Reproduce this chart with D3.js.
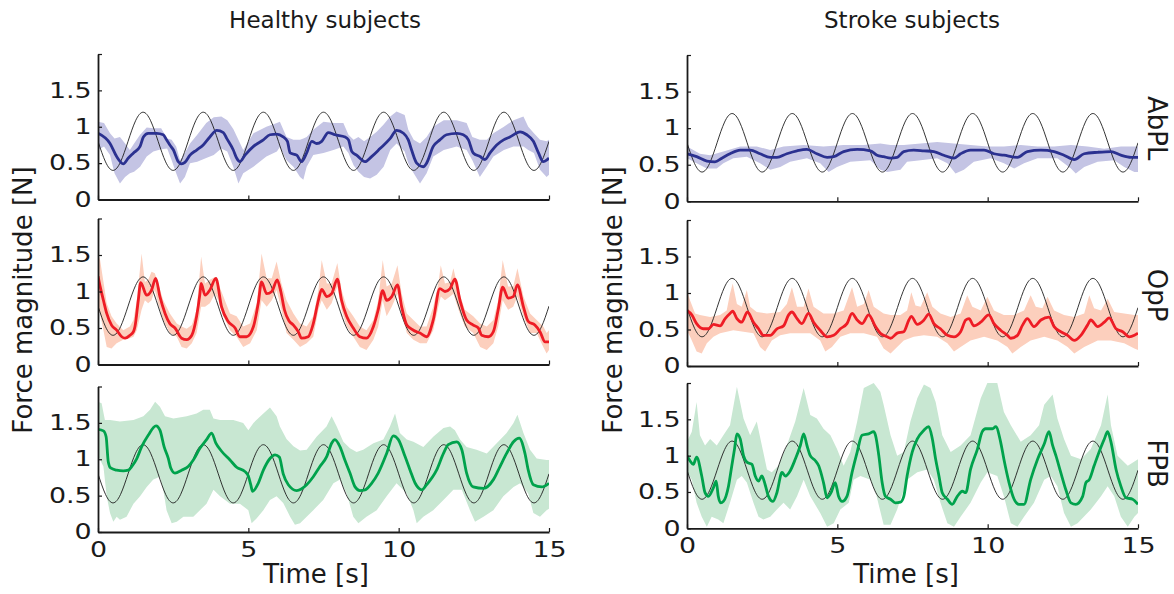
<!DOCTYPE html>
<html><head><meta charset="utf-8">
<script src="https://cdn.jsdelivr.net/npm/d3@7"></script>
<style>
body{margin:0;background:#fff}
svg{display:block}
text{font-family:"DejaVu Sans",Verdana,sans-serif;fill:#1a1a1a}
</style></head><body>
<svg id="fig" width="1174" height="594"></svg>
<script>
// ---- Target force profile (sampled every 0.25 s) ----
const targetStep = 0.25;
const targetLevels = [
  0.80,0.517,0.40,0.517,0.80,1.083,1.20,1.083,
  0.80,0.517,0.40,0.517,0.80,1.083,1.20,1.083,
  0.80,0.517,0.40,0.517,0.80,1.083,1.20,1.083,
  0.80,0.517,0.40,0.517,0.80,1.083,1.20,1.083,
  0.80,0.517,0.40,0.517,0.80,1.083,1.20,1.083,
  0.80,0.517,0.40,0.517,0.80,1.083,1.20,1.083,
  0.80,0.517,0.40,0.517,0.80,1.083,1.20,1.083,
  0.80,0.517,0.40,0.517,0.80
];

// ---- Healthy subjects: [time s, force N] ----
const healthyAbplMean = [[0,0.91],[0.4,0.77],[0.62,0.59],[0.84,0.49],[1.01,0.57],[1.18,0.64],[1.4,0.73],[1.51,0.86],[1.67,0.91],[1.95,0.91],[2.17,0.89],[2.28,0.82],[2.39,0.75],[2.51,0.68],[2.67,0.52],[2.78,0.49],[2.89,0.51],[3.06,0.61],[3.28,0.68],[3.5,0.75],[3.72,0.86],[3.95,0.95],[4.17,0.92],[4.28,0.84],[4.5,0.68],[4.61,0.57],[4.72,0.52],[4.89,0.61],[5.17,0.73],[5.5,0.82],[5.72,0.89],[5.94,0.9],[6.16,0.86],[6.3,0.8],[6.39,0.64],[6.61,0.61],[6.77,0.52],[6.94,0.64],[7.11,0.8],[7.27,0.77],[7.44,0.8],[7.66,0.92],[7.88,0.89],[8.22,0.86],[8.33,0.82],[8.44,0.66],[8.6,0.61],[8.88,0.52],[9.1,0.59],[9.38,0.7],[9.72,0.84],[9.93,0.95],[10.16,0.91],[10.32,0.82],[10.43,0.68],[10.6,0.5],[10.82,0.45],[10.93,0.5],[11.15,0.73],[11.37,0.82],[11.59,0.89],[11.93,0.91],[12.15,0.89],[12.32,0.82],[12.48,0.64],[12.71,0.59],[12.87,0.55],[13.04,0.64],[13.26,0.75],[13.49,0.82],[13.7,0.86],[14.04,0.93],[14.26,0.89],[14.48,0.8],[14.65,0.64],[14.81,0.52],[14.92,0.54],[15,0.57]];
// [time, lower, upper]
const healthyAbplBand = [[0,0.68,1.07],[0.2,0.73,1.05],[0.4,0.61,0.91],[0.55,0.36,0.84],[0.73,0.22,0.86],[0.9,0.31,0.77],[1.06,0.36,0.68],[1.2,0.38,0.77],[1.4,0.45,0.89],[1.62,0.59,0.99],[1.84,0.66,0.98],[2.1,0.69,0.98],[2.3,0.7,0.84],[2.45,0.54,0.82],[2.6,0.36,0.73],[2.73,0.22,0.54],[2.89,0.31,0.64],[3.06,0.5,0.77],[3.3,0.52,0.89],[3.6,0.57,1.05],[3.85,0.61,1.13],[4.1,0.7,1.14],[4.3,0.66,1.09],[4.5,0.45,0.97],[4.67,0.22,0.82],[4.83,0.36,0.68],[5.17,0.45,0.91],[5.6,0.59,1.0],[5.95,0.66,1.05],[6.05,0.72,1.07],[6.27,0.54,0.86],[6.5,0.45,0.82],[6.72,0.31,0.82],[6.83,0.27,0.84],[6.94,0.45,0.86],[7.16,0.61,0.96],[7.5,0.64,1.07],[7.83,0.68,1.05],[8.16,0.73,1.05],[8.33,0.64,0.89],[8.5,0.47,0.82],[8.66,0.38,0.86],[8.85,0.31,0.8],[9.05,0.29,0.86],[9.27,0.34,0.93],[9.5,0.45,1.03],[9.72,0.68,1.14],[9.93,0.77,1.21],[10.2,0.66,1.16],[10.32,0.5,0.96],[10.5,0.36,0.82],[10.71,0.22,0.77],[10.93,0.36,0.86],[11.15,0.59,1.0],[11.5,0.68,1.09],[11.93,0.73,1.09],[12.26,0.68,1.05],[12.45,0.54,0.86],[12.7,0.31,0.82],[12.93,0.45,0.82],[13.15,0.59,0.91],[13.5,0.68,1.0],[13.82,0.73,1.09],[14.15,0.73,1.14],[14.31,0.68,1.0],[14.5,0.64,0.91],[14.7,0.41,0.82],[14.92,0.31,0.8],[15,0.34,0.82]];

const healthyOppMean = [[0,1.21],[0.07,1.07],[0.18,0.88],[0.29,0.7],[0.45,0.54],[0.62,0.47],[0.79,0.38],[0.9,0.36],[1.06,0.4],[1.18,0.45],[1.23,0.52],[1.34,0.88],[1.42,1.12],[1.62,0.95],[1.78,1.02],[1.92,1.18],[2.06,0.93],[2.23,0.7],[2.39,0.56],[2.56,0.5],[2.78,0.36],[2.95,0.34],[3.12,0.4],[3.28,0.66],[3.39,0.97],[3.43,1.11],[3.56,0.95],[3.72,1.02],[3.92,1.18],[4.11,0.79],[4.33,0.59],[4.56,0.5],[4.72,0.38],[4.94,0.38],[5.17,0.52],[5.33,0.84],[5.44,1.13],[5.61,0.97],[5.78,1.0],[5.96,1.16],[6.08,1.0],[6.2,0.75],[6.35,0.6],[6.5,0.54],[6.66,0.45],[6.77,0.36],[6.99,0.38],[7.16,0.56],[7.33,0.88],[7.44,1.03],[7.61,0.93],[7.77,0.97],[7.96,1.17],[8.1,0.88],[8.27,0.66],[8.49,0.5],[8.71,0.38],[8.93,0.36],[9.16,0.52],[9.32,0.75],[9.47,1.01],[9.6,0.88],[9.77,0.93],[9.96,1.09],[10.1,0.79],[10.27,0.54],[10.49,0.47],[10.71,0.43],[10.93,0.38],[11.15,0.61],[11.37,1.04],[11.54,1.0],[11.71,1.04],[11.87,1.17],[12.04,0.88],[12.26,0.61],[12.48,0.54],[12.65,0.5],[12.76,0.4],[12.98,0.38],[13.15,0.45],[13.31,0.75],[13.46,1.06],[13.64,0.91],[13.81,0.93],[13.95,1.09],[14.15,0.79],[14.31,0.59],[14.53,0.54],[14.7,0.45],[14.87,0.31],[15,0.31]];
const healthyOppBand = [[0,0.75,1.52],[0.07,0.7,1.43],[0.29,0.24,0.84],[0.45,0.22,0.66],[0.62,0.29,0.56],[0.84,0.34,0.47],[1.06,0.36,0.52],[1.18,0.38,0.61],[1.29,0.47,0.88],[1.45,0.75,1.52],[1.56,0.88,1.13],[1.67,0.84,1.16],[1.78,0.88,1.27],[1.89,1.02,1.25],[2.0,0.84,1.11],[2.17,0.61,0.88],[2.39,0.43,0.7],[2.62,0.38,0.56],[2.78,0.24,0.52],[2.95,0.22,0.49],[3.12,0.29,0.54],[3.28,0.43,0.75],[3.43,0.79,1.48],[3.56,0.79,1.11],[3.72,0.84,1.16],[3.89,0.97,1.2],[4.0,0.88,1.11],[4.17,0.66,0.93],[4.39,0.47,0.7],[4.61,0.38,0.66],[4.83,0.24,0.52],[5.06,0.29,0.56],[5.28,0.47,0.84],[5.44,0.88,1.52],[5.61,0.79,1.18],[5.78,0.88,1.18],[5.94,1.02,1.41],[6.1,0.75,1.11],[6.27,0.43,0.88],[6.5,0.34,0.7],[6.72,0.24,0.56],[6.94,0.29,0.52],[7.16,0.38,0.66],[7.33,0.75,1.02],[7.44,0.88,1.43],[7.61,0.75,1.11],[7.77,0.84,1.11],[7.96,1.07,1.39],[8.1,0.75,1.02],[8.27,0.52,0.79],[8.49,0.38,0.66],[8.71,0.24,0.52],[8.93,0.2,0.47],[9.16,0.34,0.61],[9.32,0.52,0.88],[9.47,0.88,1.43],[9.6,0.66,1.07],[9.77,0.79,1.11],[9.96,0.97,1.36],[10.1,0.7,0.97],[10.27,0.43,0.7],[10.49,0.34,0.61],[10.71,0.29,0.52],[10.93,0.29,0.52],[11.15,0.47,0.79],[11.32,0.79,1.11],[11.4,0.93,1.36],[11.54,0.88,1.11],[11.71,0.93,1.13],[11.82,0.97,1.32],[11.99,0.75,1.02],[12.2,0.52,0.75],[12.48,0.43,0.66],[12.71,0.24,0.56],[12.93,0.2,0.52],[13.15,0.29,0.61],[13.31,0.52,0.88],[13.46,0.88,1.43],[13.64,0.75,1.07],[13.81,0.79,1.07],[13.95,0.93,1.32],[14.15,0.66,0.93],[14.37,0.43,0.7],[14.59,0.43,0.61],[14.81,0.24,0.52],[14.92,0.15,0.43],[15,0.2,0.47]];

const healthyFpbMean = [[0,1.41],[0.18,1.39],[0.27,1.31],[0.34,0.97],[0.42,0.88],[0.62,0.85],[0.84,0.84],[1.01,0.85],[1.12,0.9],[1.29,1.01],[1.45,1.17],[1.67,1.33],[1.93,1.46],[2.06,1.4],[2.2,1.17],[2.34,1.01],[2.42,0.88],[2.56,0.81],[2.78,0.85],[3.0,0.9],[3.17,0.99],[3.39,1.15],[3.61,1.27],[3.78,1.36],[3.92,1.22],[4.11,1.11],[4.39,0.99],[4.61,0.89],[4.89,0.83],[5.0,0.77],[5.08,0.65],[5.14,0.56],[5.33,0.67],[5.5,0.85],[5.72,1.01],[5.89,1.06],[6.03,1.03],[6.16,0.8],[6.33,0.65],[6.61,0.57],[6.94,0.65],[7.16,0.76],[7.38,0.9],[7.61,1.04],[7.77,1.22],[7.88,1.27],[8.05,1.17],[8.21,0.99],[8.38,0.81],[8.55,0.62],[8.71,0.57],[8.88,0.58],[9.1,0.67],[9.32,0.81],[9.6,1.08],[9.82,1.32],[9.99,1.27],[10.21,1.04],[10.38,0.85],[10.55,0.67],[10.77,0.58],[10.93,0.65],[11.26,0.85],[11.49,1.08],[11.65,1.2],[11.93,1.24],[12.1,1.13],[12.26,0.81],[12.48,0.62],[12.82,0.6],[13.15,0.72],[13.37,0.9],[13.59,1.08],[13.82,1.24],[14.01,1.29],[14.2,1.08],[14.31,0.85],[14.48,0.65],[14.76,0.62],[15,0.67]];
const healthyFpbUpper = [[0,1.79],[0.12,1.77],[0.23,1.54],[0.4,1.54],[0.73,1.52],[1.18,1.54],[1.51,1.59],[1.73,1.68],[1.9,1.79],[2.06,1.72],[2.23,1.59],[2.51,1.56],[2.95,1.59],[3.28,1.63],[3.5,1.68],[3.72,1.68],[3.84,1.56],[4.06,1.54],[4.5,1.54],[4.83,1.5],[5.0,1.4],[5.17,1.5],[5.5,1.63],[5.72,1.71],[5.94,1.59],[6.05,1.45],[6.27,1.28],[6.5,1.18],[6.72,1.12],[6.94,1.13],[7.27,1.31],[7.6,1.45],[7.77,1.59],[7.94,1.45],[8.16,1.24],[8.38,1.15],[8.6,1.1],[8.82,1.13],[9.16,1.22],[9.49,1.27],[9.71,1.45],[9.88,1.63],[10.04,1.36],[10.27,1.27],[10.49,1.24],[10.82,1.17],[11.15,1.31],[11.49,1.43],[11.71,1.45],[11.87,1.4],[12.04,1.27],[12.26,1.17],[12.59,1.13],[12.93,1.08],[13.26,1.22],[13.59,1.36],[13.82,1.5],[13.95,1.61],[14.15,1.36],[14.37,1.13],[14.59,1.01],[14.92,0.99],[15,0.99]];
const healthyFpbLower = [[0,1.05],[0.18,0.9],[0.29,0.49],[0.4,0.26],[0.51,0.14],[0.62,0.21],[0.73,0.17],[0.95,0.21],[1.18,0.39],[1.4,0.49],[1.62,0.62],[1.84,0.72],[2.06,0.76],[2.17,0.58],[2.28,0.3],[2.45,0.12],[2.62,0.14],[2.84,0.21],[3.17,0.21],[3.39,0.3],[3.61,0.39],[3.84,0.58],[4.06,0.49],[4.39,0.39],[4.72,0.39],[5.0,0.3],[5.11,0.12],[5.28,0.19],[5.5,0.3],[5.72,0.44],[5.94,0.49],[6.16,0.4],[6.39,0.21],[6.55,0.1],[6.72,0.12],[6.94,0.21],[7.16,0.3],[7.49,0.44],[7.83,0.67],[8.05,0.72],[8.27,0.53],[8.49,0.21],[8.66,0.12],[8.93,0.21],[9.27,0.3],[9.6,0.49],[9.93,0.67],[10.27,0.53],[10.49,0.3],[10.6,0.12],[10.82,0.21],[11.15,0.3],[11.49,0.44],[11.82,0.58],[12.1,0.58],[12.37,0.3],[12.54,0.14],[12.82,0.21],[13.15,0.3],[13.48,0.49],[13.82,0.62],[14.04,0.67],[14.31,0.53],[14.48,0.26],[14.7,0.21],[14.92,0.3],[15,0.32]];

// ---- Stroke subjects ----
const strokeAbplMean = [[0,0.65],[0.32,0.61],[0.66,0.55],[0.93,0.54],[1.16,0.59],[1.43,0.65],[1.77,0.7],[2.1,0.7],[2.43,0.65],[2.77,0.6],[2.99,0.6],[3.32,0.65],[3.66,0.69],[3.99,0.71],[4.32,0.65],[4.66,0.6],[4.88,0.61],[5.21,0.68],[5.66,0.71],[6.1,0.69],[6.32,0.63],[6.54,0.61],[6.77,0.59],[6.99,0.6],[7.21,0.68],[7.54,0.7],[7.88,0.69],[8.21,0.68],[8.54,0.63],[8.88,0.59],[9.1,0.65],[9.43,0.7],[9.88,0.7],[10.21,0.65],[10.54,0.63],[10.99,0.6],[11.32,0.68],[11.77,0.7],[12.21,0.68],[12.54,0.63],[12.88,0.57],[13.21,0.65],[13.66,0.67],[14.1,0.68],[14.43,0.63],[14.77,0.6],[15,0.6]];
const strokeAbplUpper = [[0,0.75],[0.43,0.65],[0.77,0.63],[1.21,0.68],[1.77,0.75],[2.32,0.75],[2.77,0.7],[3.21,0.75],[3.88,0.77],[4.54,0.75],[5.21,0.77],[5.88,0.77],[6.43,0.79],[6.77,0.77],[7.21,0.77],[7.77,0.79],[8.32,0.81],[8.88,0.79],[9.43,0.77],[9.99,0.75],[10.54,0.75],[11.1,0.77],[11.66,0.75],[12.21,0.75],[12.77,0.77],[13.32,0.75],[13.88,0.72],[14.43,0.75],[15,0.75]];
const strokeAbplLower = [[0,0.59],[0.32,0.52],[0.66,0.45],[0.99,0.45],[1.21,0.52],[1.54,0.59],[1.99,0.61],[2.43,0.52],[2.77,0.43],[3.1,0.47],[3.43,0.54],[3.99,0.59],[4.43,0.52],[4.71,0.4],[4.99,0.47],[5.43,0.54],[6.1,0.56],[6.43,0.43],[6.66,0.4],[7.1,0.43],[7.32,0.54],[7.77,0.56],[8.32,0.59],[8.66,0.52],[8.93,0.38],[9.21,0.43],[9.54,0.54],[10.1,0.59],[10.54,0.52],[10.88,0.45],[11.21,0.52],[11.66,0.59],[12.32,0.59],[12.77,0.45],[12.93,0.38],[13.21,0.47],[13.66,0.54],[14.21,0.56],[14.54,0.47],[14.88,0.4],[15,0.4]];

const strokeOppMean = [[0,0.76],[0.16,0.7],[0.32,0.58],[0.54,0.51],[0.71,0.51],[0.88,0.57],[1.1,0.55],[1.27,0.65],[1.43,0.72],[1.52,0.75],[1.66,0.65],[1.82,0.6],[2.01,0.74],[2.21,0.6],[2.38,0.51],[2.54,0.42],[2.77,0.42],[2.99,0.51],[3.21,0.55],[3.38,0.7],[3.49,0.74],[3.66,0.65],[3.82,0.58],[4.04,0.72],[4.21,0.6],[4.43,0.49],[4.66,0.4],[4.88,0.42],[5.1,0.51],[5.32,0.58],[5.49,0.72],[5.66,0.63],[5.82,0.58],[6.04,0.7],[6.27,0.54],[6.43,0.45],[6.66,0.4],[6.77,0.38],[6.99,0.45],[7.21,0.47],[7.38,0.63],[7.46,0.68],[7.66,0.57],[7.88,0.63],[8.04,0.71],[8.21,0.58],[8.43,0.51],[8.66,0.42],[8.88,0.4],[9.1,0.47],[9.27,0.63],[9.38,0.65],[9.54,0.55],[9.77,0.6],[10.04,0.7],[10.21,0.58],[10.43,0.49],[10.66,0.42],[10.77,0.38],[10.99,0.42],[11.16,0.56],[11.32,0.65],[11.54,0.54],[11.77,0.63],[12.04,0.67],[12.21,0.54],[12.43,0.47],[12.66,0.42],[12.88,0.35],[13.1,0.42],[13.32,0.56],[13.43,0.63],[13.66,0.54],[13.88,0.6],[14.04,0.66],[14.27,0.51],[14.49,0.47],[14.71,0.4],[14.88,0.42],[15,0.45]];
const strokeOppUpper = [[0,1.04],[0.1,0.9],[0.27,0.72],[0.43,0.7],[0.77,0.67],[1.1,0.7],[1.32,0.76],[1.43,0.99],[1.52,1.13],[1.66,0.85],[1.82,0.81],[1.99,1.04],[2.1,0.81],[2.32,0.74],[2.66,0.72],[3.1,0.74],[3.32,0.85],[3.49,1.08],[3.66,0.81],[3.88,0.81],[4.04,1.06],[4.21,0.81],[4.54,0.72],[4.88,0.72],[5.21,0.76],[5.49,1.08],[5.66,0.81],[5.88,0.85],[6.04,1.04],[6.21,0.81],[6.54,0.72],[6.77,0.7],[7.1,0.7],[7.32,0.76],[7.46,1.01],[7.6,0.83],[7.77,0.81],[7.99,1.01],[8.16,0.81],[8.43,0.72],[8.77,0.67],[9.1,0.72],[9.32,0.97],[9.49,0.81],[9.77,0.76],[9.99,0.95],[10.21,0.76],[10.54,0.7],[10.88,0.7],[11.21,0.76],[11.43,0.97],[11.6,0.81],[11.82,0.79],[11.99,0.95],[12.21,0.76],[12.54,0.7],[12.88,0.67],[13.21,0.72],[13.38,0.97],[13.54,0.79],[13.77,0.76],[13.99,0.92],[14.21,0.74],[14.54,0.72],[14.88,0.7],[15,0.7]];
const strokeOppLower = [[0,0.49],[0.16,0.35],[0.32,0.2],[0.49,0.17],[0.66,0.31],[0.88,0.4],[1.1,0.45],[1.32,0.47],[1.54,0.49],[1.88,0.47],[2.21,0.45],[2.43,0.26],[2.6,0.2],[2.82,0.35],[3.1,0.42],[3.43,0.45],[3.77,0.45],[4.1,0.45],[4.43,0.35],[4.6,0.2],[4.82,0.26],[5.1,0.4],[5.43,0.45],[5.88,0.45],[6.32,0.4],[6.54,0.24],[6.77,0.17],[6.99,0.26],[7.21,0.35],[7.54,0.4],[7.88,0.42],[8.32,0.4],[8.66,0.31],[8.88,0.2],[9.1,0.26],[9.43,0.35],[9.88,0.4],[10.32,0.35],[10.66,0.26],[10.82,0.17],[11.1,0.26],[11.43,0.35],[11.88,0.4],[12.32,0.35],[12.66,0.26],[12.88,0.17],[13.21,0.26],[13.66,0.35],[14.1,0.35],[14.54,0.31],[14.88,0.24],[15,0.22]];

const strokeFpbMean = [[0,1.0],[0.1,0.93],[0.21,0.88],[0.32,0.98],[0.49,0.72],[0.6,0.49],[0.71,0.44],[0.88,0.56],[0.97,0.65],[1.04,0.44],[1.12,0.35],[1.21,0.37],[1.38,0.58],[1.49,0.86],[1.58,1.09],[1.66,1.3],[1.77,1.23],[1.88,1.0],[1.99,0.91],[2.16,0.88],[2.27,0.72],[2.38,0.65],[2.49,0.72],[2.6,0.6],[2.71,0.44],[2.86,0.37],[2.99,0.49],[3.16,0.77],[3.27,0.72],[3.43,0.79],[3.6,0.95],[3.77,1.14],[3.88,1.3],[3.99,1.14],[4.1,1.0],[4.27,0.93],[4.38,0.86],[4.54,0.63],[4.66,0.42],[4.79,0.49],[4.93,0.63],[5.04,0.44],[5.16,0.37],[5.32,0.44],[5.49,0.77],[5.66,1.05],[5.82,1.28],[6.04,1.3],[6.21,1.33],[6.27,1.28],[6.38,1.0],[6.49,0.63],[6.6,0.44],[6.77,0.4],[6.93,0.35],[7.1,0.36],[7.21,0.44],[7.32,0.72],[7.49,1.05],[7.66,1.23],[7.88,1.35],[8.04,1.4],[8.16,1.23],[8.27,0.95],[8.38,0.72],[8.49,0.49],[8.66,0.4],[8.82,0.33],[8.99,0.44],[9.16,0.51],[9.27,0.49],[9.43,0.81],[9.66,1.09],[9.82,1.33],[9.93,1.37],[10.16,1.37],[10.27,1.4],[10.43,1.19],[10.54,0.95],[10.71,0.63],[10.88,0.4],[11.04,0.33],[11.21,0.33],[11.43,0.67],[11.66,0.95],[11.88,1.16],[12.04,1.33],[12.16,1.14],[12.27,1.0],[12.43,0.77],[12.6,0.53],[12.77,0.35],[12.93,0.33],[13.16,0.44],[13.27,0.63],[13.38,0.67],[13.54,0.86],[13.77,1.12],[13.88,1.23],[13.99,1.33],[14.1,1.19],[14.27,0.81],[14.43,0.58],[14.6,0.42],[14.82,0.4],[15,0.33]];
const strokeFpbUpper = [[0,1.19],[0.16,1.33],[0.32,1.74],[0.43,1.28],[0.6,1.14],[0.77,1.23],[0.99,1.14],[1.21,1.28],[1.43,1.42],[1.66,1.95],[1.88,1.51],[2.1,1.28],[2.32,1.47],[2.49,1.14],[2.66,0.81],[2.82,0.77],[3.04,0.86],[3.32,1.14],[3.6,1.47],[3.88,1.93],[4.1,1.56],[4.32,1.51],[4.54,1.37],[4.77,1.28],[4.99,1.09],[5.21,0.86],[5.43,1.05],[5.66,1.47],[5.88,1.93],[6.21,2.0],[6.43,1.88],[6.54,1.7],[6.77,1.28],[6.99,1.0],[7.21,1.05],[7.43,1.47],[7.66,1.79],[7.88,1.98],[8.1,1.93],[8.27,1.74],[8.49,1.28],[8.77,1.05],[9.1,1.14],[9.43,1.28],[9.77,1.79],[9.99,2.0],[10.32,2.0],[10.54,1.6],[10.77,1.42],[11.1,1.19],[11.43,1.28],[11.71,1.42],[11.88,1.7],[12.16,1.84],[12.32,1.51],[12.54,1.23],[12.77,1.0],[13.1,0.95],[13.43,1.09],[13.77,1.42],[13.99,1.84],[14.1,1.42],[14.32,1.0],[14.66,0.86],[15,0.95]];
const strokeFpbLower = [[0,0.77],[0.16,0.67],[0.32,0.35],[0.49,0.16],[0.66,0.02],[0.82,0.16],[1.04,0.12],[1.21,0.07],[1.43,0.35],[1.66,0.67],[1.82,0.72],[1.99,0.63],[2.21,0.35],[2.38,0.16],[2.54,0.12],[2.77,0.16],[2.99,0.26],[3.21,0.35],[3.43,0.26],[3.66,0.44],[3.88,0.67],[4.1,0.44],[4.43,0.21],[4.66,0.02],[4.88,0.07],[5.1,0.26],[5.38,0.35],[5.54,0.67],[5.77,0.72],[6.1,0.67],[6.3,0.45],[6.54,0.05],[6.77,0.05],[6.99,0.26],[7.32,0.67],[7.66,0.77],[7.99,0.81],[8.21,0.67],[8.43,0.35],[8.66,0.07],[8.88,0.02],[9.1,0.16],[9.43,0.35],[9.77,0.63],[9.99,0.77],[10.32,0.72],[10.54,0.44],[10.77,0.07],[10.99,0.02],[11.21,0.16],[11.54,0.35],[11.88,0.67],[12.1,0.72],[12.32,0.58],[12.54,0.21],[12.77,0.02],[12.99,0.07],[13.43,0.26],[13.77,0.44],[13.99,0.58],[14.21,0.44],[14.43,0.16],[14.66,0.02],[14.88,0.16],[15,0.21]];

// ---- Labels and ticks ----
const columnTitles = ["Healthy subjects", "Stroke subjects"];
const muscleNames = ["AbPL", "OpP", "FPB"];
const yTickValues = [0, 0.5, 1, 1.5, 2];
const yTickLabels = ["0", "0.5", "1", "1.5", ""];
const xTickValues = [0, 5, 10, 15];
const xTickLabels = ["0", "5", "10", "15"];
const yLabel = "Force magnitude [N]";
const xLabel = "Time [s]";

// ---- Styles ----
const muscleStyle = [
  {line: "#2b3190", band: "#c4c4e4"},
  {line: "#ee1c25", band: "#fccfbd"},
  {line: "#00a24c", band: "#c8e7d2"}
];

const svg = d3.select("#fig");
const colX = [[98, 549], [687, 1138]];
const rowY = [
  [[199.5, 54], [364.5, 218.5], [532, 386.5]],
  [[201.3, 55], [366, 220], [528.3, 383]]
];

const toBand = b => ({upper: b.map(d => [d[0], d[2]]), lower: b.map(d => [d[0], d[1]])});
const panels = [
  {col: 0, row: 0, mean: healthyAbplMean, ...toBand(healthyAbplBand)},
  {col: 0, row: 1, mean: healthyOppMean, ...toBand(healthyOppBand)},
  {col: 0, row: 2, mean: healthyFpbMean, upper: healthyFpbUpper, lower: healthyFpbLower},
  {col: 1, row: 0, mean: strokeAbplMean, upper: strokeAbplUpper, lower: strokeAbplLower},
  {col: 1, row: 1, mean: strokeOppMean, upper: strokeOppUpper, lower: strokeOppLower},
  {col: 1, row: 2, mean: strokeFpbMean, upper: strokeFpbUpper, lower: strokeFpbLower}
];

const target = targetLevels.map((v, i) => [i * targetStep, v]);
const tickScaleX = 1.28;

panels.forEach((p, k) => {
  const x = d3.scaleLinear().domain([0, 15]).range(colX[p.col]);
  const y = d3.scaleLinear().domain([0, 2]).range(rowY[p.col][p.row]);
  const st = muscleStyle[p.row];
  const g = svg.append("g");

  const clipId = "clip" + k;
  g.append("clipPath").attr("id", clipId).append("rect")
    .attr("x", x(0)).attr("y", y(2)).attr("width", x(15) - x(0)).attr("height", y(0) - y(2));
  const plot = g.append("g").attr("clip-path", `url(#${clipId})`);

  const line = d3.line().x(d => x(d[0])).y(d => y(d[1]));
  // shaded spread
  const outline = p.upper.concat(p.lower.slice().reverse());
  plot.append("path").attr("d", line(outline) + "Z")
    .attr("fill", st.band).attr("stroke", "none");
  // target profile
  plot.append("path").attr("d", line.curve(d3.curveNatural)(target))
    .attr("fill", "none").attr("stroke", "#1e1e1e").attr("stroke-width", 0.9);
  // mean force
  plot.append("path").attr("d", d3.line().x(d => x(d[0])).y(d => y(d[1])).curve(d3.curveMonotoneX)(p.mean))
    .attr("fill", "none").attr("stroke", st.line).attr("stroke-width", 2.8)
    .attr("stroke-linejoin", "round");

  // y axis
  const ya = g.append("g").attr("transform", `translate(${x(0)},0)`)
    .call(d3.axisLeft(y).tickValues(yTickValues).tickSizeInner(-4).tickSizeOuter(0)
      .tickPadding(5).tickFormat((d, i) => yTickLabels[i]));
  // x axis
  const xa = g.append("g").attr("transform", `translate(0,${y(0)})`)
    .call(d3.axisBottom(x).tickValues(xTickValues).tickSizeInner(-4).tickSizeOuter(0)
      .tickPadding(10).tickFormat((d, i) => p.row === 2 ? xTickLabels[i] : ""));

  [ya, xa].forEach(a => {
    a.select(".domain").attr("stroke", "#1a1a1a").attr("stroke-width", 1.8);
    a.selectAll(".tick line").attr("stroke", "#1a1a1a").attr("stroke-width", 1.2);
    a.selectAll(".tick text").attr("font-size", 21).attr("font-family", "DejaVu Sans")
      .attr("fill", "#1a1a1a");
  });
  ya.selectAll(".tick text").attr("transform", `scale(${tickScaleX},1)`);
  xa.selectAll(".tick text").attr("transform", `scale(${tickScaleX},1)`);

  // muscle name on the right of the stroke column
  if (p.col === 1) {
    const cy = (y(0) + y(2)) / 2 + [0, 2, 8][p.row];
    svg.append("text").attr("transform", `translate(1148,${cy}) rotate(90)`)
      .attr("text-anchor", "middle").attr("font-size", 26).text(muscleNames[p.row]);
  }
});

// column titles, axis labels
[325, 912].forEach((cx, i) => {
  svg.append("text").attr("x", cx).attr("y", 28).attr("text-anchor", "middle")
    .attr("font-size", 23).text(columnTitles[i]);
});
[32, 622].forEach(bx => {
  svg.append("text").attr("transform", `translate(${bx},300) rotate(-90)`)
    .attr("text-anchor", "middle").attr("font-size", 26).text(yLabel);
});
[316, 906].forEach(cx => {
  svg.append("text").attr("x", cx).attr("y", 583).attr("text-anchor", "middle")
    .attr("font-size", 26).text(xLabel);
});
</script>
</body></html>
